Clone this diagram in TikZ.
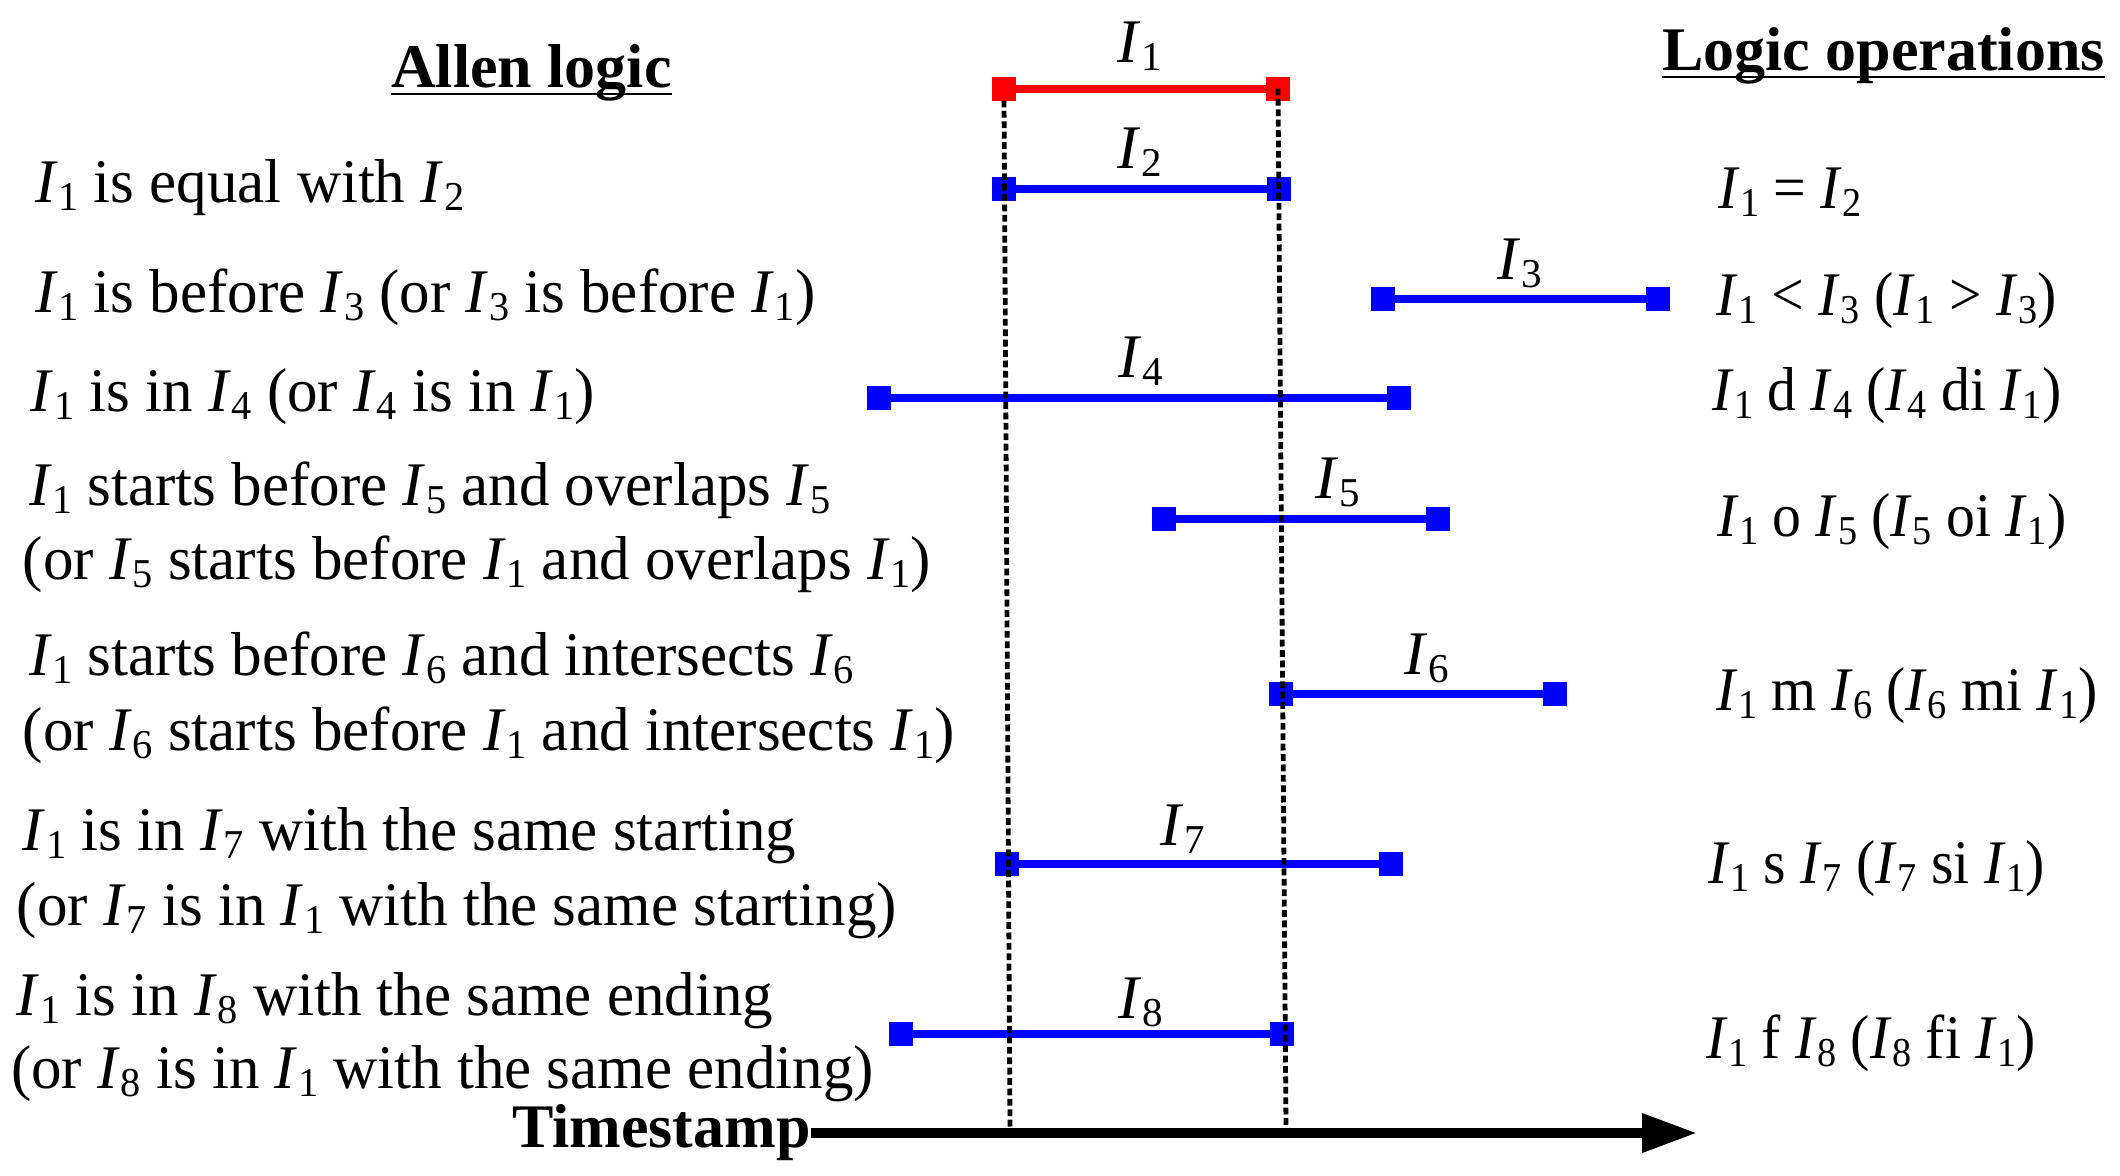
\documentclass[tikz,border=0pt]{standalone}
\usepackage{fontspec}
\setmainfont{Liberation Serif}
\usetikzlibrary{arrows.meta}
\newcommand{\Iv}[1]{\textit{I}\kern0.01em\raisebox{-0.13em}{\fontsize{20.5}{22}\selectfont #1}}
\newcommand{\lc}[1]{\scalebox{0.984}[1]{#1}}
\newcommand{\rc}[1]{\scalebox{0.932}[1]{#1}}
\newcommand{\ivl}[8]{%
  \node[endpt=#5] (#1l) at (#3,#2) {};
  \node[endpt=#5] (#1r) at (#4,#2) {};
  \draw[bar=#5] (#1l.center) -- (#1r.center);
  \node[lbl] (#1t) at (#6,#7) {\Iv{#8}};
}
\begin{document}
\begin{tikzpicture}[x=0.5pt,y=-0.5pt]
\tikzset{
 txt/.style={anchor=base west, inner sep=0pt, outer sep=0pt, font=\fontsize{31}{37}\selectfont},
 ttl/.style={anchor=base west, inner sep=0pt, outer sep=0pt, font=\fontsize{31}{37}\selectfont\bfseries},
 lbl/.style={anchor=base, inner sep=0pt, outer sep=0pt, font=\fontsize{31}{37}\selectfont},
 endpt/.style={rectangle, minimum size=12pt, inner sep=0pt, outer sep=0pt, fill=#1},
 endpt/.default=blue,
 bar/.style={line width=4pt, draw=#1},
 guide/.style={line width=2.4pt, dash pattern=on 3.4pt off 1.8pt},
 axis/.style={line width=5pt, -{Triangle[length=27.5pt,width=18.5pt]}},
 uline/.style={line width=1pt},
}
\useasboundingbox (0,0) rectangle (2120,1175);

% titles
\node[ttl] (tal) at (391,87) {Allen logic};
\draw[uline] ([yshift=-3.5pt]tal.base west) -- ([yshift=-3.5pt]tal.base east);
\node[ttl] (tlo) at (1662,70) {Logic operations};
\draw[uline] ([yshift=-3.5pt]tlo.base west) -- ([yshift=-3.5pt]tlo.base east);

% left column
\node[txt] (l1) at (35,202) {\lc{\Iv{1} is equal with \Iv{2}}};
\node[txt] (l2) at (35,312) {\lc{\Iv{1} is before \Iv{3} (or \Iv{3} is before \Iv{1})}};
\node[txt] (l3) at (31,411) {\lc{\Iv{1} is in \Iv{4} (or \Iv{4} is in \Iv{1})}};
\node[txt] (l4) at (29,505) {\lc{\Iv{1} starts before \Iv{5} and overlaps \Iv{5}}};
\node[txt] (l5) at (23,579) {\lc{(or \Iv{5} starts before \Iv{1} and overlaps \Iv{1})}};
\node[txt] (l6) at (29,675) {\lc{\Iv{1} starts before \Iv{6} and intersects \Iv{6}}};
\node[txt] (l7) at (23,750) {\lc{(or \Iv{6} starts before \Iv{1} and intersects \Iv{1})}};
\node[txt] (l8) at (23,850) {\lc{\Iv{1} is in \Iv{7} with the same starting}};
\node[txt] (l9) at (17,925) {\lc{(or \Iv{7} is in \Iv{1} with the same starting)}};
\node[txt] (l10) at (17,1015) {\lc{\Iv{1} is in \Iv{8} with the same ending}};
\node[txt] (l11) at (11,1088) {\lc{(or \Iv{8} is in \Iv{1} with the same ending)}};

% right column
\node[txt] (r1) at (1718,208) {\rc{\Iv{1} = \Iv{2}}};
\node[txt] (r2) at (1716,315) {\rc{\Iv{1} < \Iv{3} (\Iv{1} > \Iv{3})}};
\node[txt] (r3) at (1712,410) {\rc{\Iv{1} d \Iv{4} (\Iv{4} di \Iv{1})}};
\node[txt] (r4) at (1717,536) {\rc{\Iv{1} o \Iv{5} (\Iv{5} oi \Iv{1})}};
\node[txt] (r5) at (1716,710) {\rc{\Iv{1} m \Iv{6} (\Iv{6} mi \Iv{1})}};
\node[txt] (r6) at (1708,883) {\rc{\Iv{1} s \Iv{7} (\Iv{7} si \Iv{1})}};
\node[txt] (r7) at (1706,1058) {\rc{\Iv{1} f \Iv{8} (\Iv{8} fi \Iv{1})}};

% intervals
\ivl{a}{88.5}{1004}{1278}{red}{1140}{62}{1}
\ivl{b}{189}{1004}{1279}{blue}{1140}{168}{2}
\ivl{c}{299}{1383}{1658}{blue}{1520}{279}{3}
\ivl{d}{398}{879}{1399}{blue}{1141}{377}{4}
\ivl{e}{519}{1164}{1438}{blue}{1338}{498}{5}
\ivl{f}{694}{1281}{1555}{blue}{1427}{674}{6}
\ivl{g}{864}{1007}{1391}{blue}{1183}{845}{7}
\ivl{h}{1034}{901}{1282}{blue}{1141}{1018}{8}

% guide lines
\coordinate (gb1) at (1010,1127);
\coordinate (gb2) at (1286,1127);
\draw[guide] ([yshift=-6pt]al.center) -- (gb1);
\draw[guide] (ar.center) -- (gb2);

% time axis
\node[ttl] (ts) at (512,1147) {Timestamp};
\coordinate (tip) at (1697,1133);
\draw[axis] ([yshift=7pt]ts.base east) -- (tip);
\end{tikzpicture}
\end{document}
